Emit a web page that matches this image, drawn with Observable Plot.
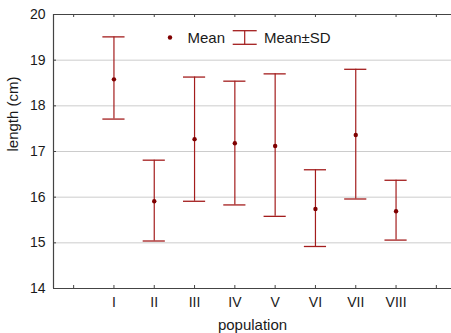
<!DOCTYPE html>
<html><head><meta charset="utf-8">
<script src="https://cdn.jsdelivr.net/npm/d3@7"></script>
<script src="https://cdn.jsdelivr.net/npm/@observablehq/plot@0.6"></script>
<style>
body{margin:0;overflow:hidden;background:#fff;font-family:"Liberation Sans",Arial,sans-serif}
#wrap{position:relative;width:451px;height:333px;overflow:hidden}
#wrap svg{display:block}
#legend{position:absolute;left:0;top:0}
</style></head><body><div id="wrap"></div>
<script>
const populations = ["I","II","III","IV","V","VI","VII","VIII"];
const means = [18.58,15.91,17.27,17.18,17.12,15.74,17.36,15.69];
const upper = [19.51,16.81,18.63,18.54,18.70,16.60,18.80,16.37];
const lower = [17.71,15.04,15.91,15.83,15.58,14.92,15.96,15.06];
const yTicks = [14,15,16,17,18,19,20];
const gridValues = [15,16,17,18,19];
const xTickPositions = [0,1,2,3,4,5,6,7,8,9];
const yLabel = "length (cm)";
const xLabel = "population";
const legendLabels = ["Mean","Mean±SD"];

const data = populations.map((p,k)=>({i:k+1, p, mean:means[k], hi:upper[k], lo:lower[k]}));
const barColor = "#a31d1d";
const dotColor = "#7f0000";
const axisColor = "#444";
const capHalf = 0.275;

const chart = Plot.plot({
  width: 451, height: 333,
  marginLeft: 53, marginTop: 14, marginBottom: 45, marginRight: 0,
  style: {fontFamily: '"Liberation Sans", Arial, sans-serif', color: "#1a1a1a", background: "white"},
  x: {domain: [-0.5, 9.5], range: [53, 456]},
  y: {domain: [14, 20], range: [288, 14]},
  marks: [
    Plot.ruleY(gridValues, {stroke: "#cccccc", strokeWidth: 1}),
    Plot.ruleY([14, 20], {stroke: axisColor, strokeWidth: 1.2}),
    Plot.ruleX([-0.5], {stroke: axisColor, strokeWidth: 1.2}),
    Plot.tickX(xTickPositions, {x: d => d, insetTop: 271, stroke: axisColor}),
    Plot.tickX(xTickPositions, {x: d => d, insetBottom: 271, stroke: axisColor}),
    Plot.tickY(yTicks, {y: d => d, insetRight: 395, stroke: axisColor}),
    Plot.axisY({ticks: yTicks, tickFormat: d => String(d), tickSize: 0, tickPadding: 8, fontSize: 14, label: null}),
    Plot.axisX({ticks: [1,2,3,4,5,6,7,8], tickFormat: i => populations[i-1], tickSize: 0, tickPadding: 9, fontSize: 14, label: null}),
    Plot.text([yLabel], {frameAnchor: "left", rotate: -90, dx: -40, fontSize: 15, fill: "#1a1a1a"}),
    Plot.text([xLabel], {frameAnchor: "bottom", lineAnchor: "bottom", dy: 41, fontSize: 15, fill: "#1a1a1a"}),
    Plot.ruleX(data, {x: "i", y1: "lo", y2: "hi", stroke: barColor, strokeWidth: 1.2}),
    Plot.ruleY(data, {y: "hi", x1: d => d.i - capHalf, x2: d => d.i + capHalf, stroke: barColor, strokeWidth: 1.3}),
    Plot.ruleY(data, {y: "lo", x1: d => d.i - capHalf, x2: d => d.i + capHalf, stroke: barColor, strokeWidth: 1.3}),
    Plot.dot(data, {x: "i", y: "mean", r: 2.2, fill: dotColor, stroke: "none"})
  ]
});
const wrap = document.getElementById("wrap");
wrap.appendChild(chart);

// legend overlay
const lg = d3.select(wrap).append("svg").attr("id","legend").attr("width",451).attr("height",60)
  .style("font-family",'"Liberation Sans", Arial, sans-serif');
lg.append("circle").attr("cx",170).attr("cy",37.5).attr("r",2.2).attr("fill",dotColor);
lg.append("text").attr("x",187.5).attr("y",42.7).attr("font-size",15).attr("fill","#1a1a1a").text(legendLabels[0]);
lg.append("line").attr("x1",232.7).attr("x2",256.7).attr("y1",30.7).attr("y2",30.7).attr("stroke",barColor).attr("stroke-width",1.3);
lg.append("line").attr("x1",232.7).attr("x2",256.7).attr("y1",44.3).attr("y2",44.3).attr("stroke",barColor).attr("stroke-width",1.3);
lg.append("line").attr("x1",244.7).attr("x2",244.7).attr("y1",30.7).attr("y2",44.3).attr("stroke",barColor).attr("stroke-width",1.2);
lg.append("text").attr("x",264).attr("y",42.7).attr("font-size",15).attr("fill","#1a1a1a").text(legendLabels[1]);
</script></body></html>
